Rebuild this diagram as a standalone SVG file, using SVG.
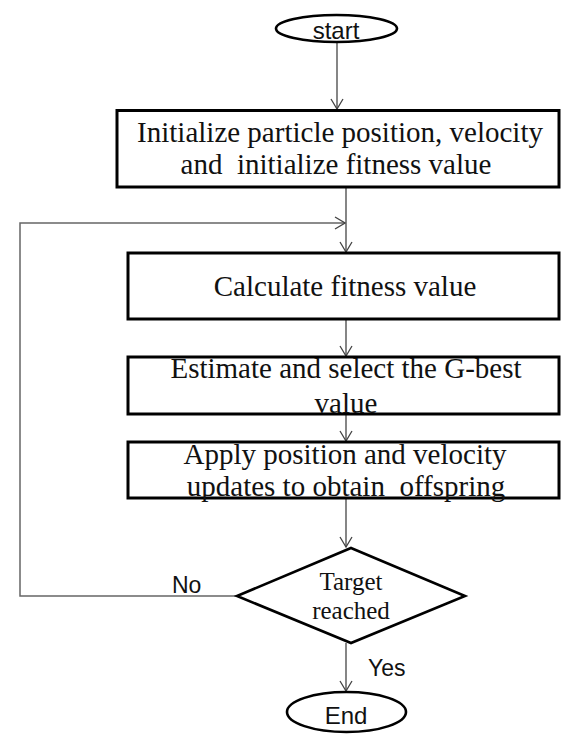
<svg xmlns="http://www.w3.org/2000/svg" width="562" height="734" viewBox="0 0 562 734">
  <style>
    .term { fill: #fff; stroke: #000; stroke-width: 2.6; }
    .box { fill: #fff; stroke: #000; stroke-width: 3; }
    .dec { fill: #fff; stroke: #000; stroke-width: 2.6; stroke-linejoin: miter; }
    .sans { font-family: "Liberation Sans", Arial, sans-serif; fill: #111; }
    .serif { font-family: "Liberation Serif", "Times New Roman", serif; fill: #111; white-space: pre; }
    .flow { fill: none; stroke: #444; stroke-width: 1.3; }
    .loop { fill: none; stroke: #666; stroke-width: 1.5; }
  </style>
  <defs>
    <marker id="arrow" viewBox="-11 -7 12 14" refX="0" refY="0" markerWidth="12" markerHeight="14" markerUnits="userSpaceOnUse" orient="auto">
      <path d="M-10,-6 L0,0 L-10,6" fill="none" stroke="#444" stroke-width="1.3"/>
    </marker>
  </defs>

  <!-- connectors -->
  <g id="connectors">
    <path class="flow" d="M337,42 V109" marker-end="url(#arrow)"/>
    <path class="flow" d="M346,187 V252" marker-end="url(#arrow)"/>
    <path class="loop" d="M237,596 H20 V223 H345" marker-end="url(#arrow)"/>
    <path class="flow" d="M346,319 V356" marker-end="url(#arrow)"/>
    <path class="flow" d="M346,414 V441" marker-end="url(#arrow)"/>
    <path class="flow" d="M346,498 V547" marker-end="url(#arrow)"/>
    <path class="flow" d="M346,643 V691" marker-end="url(#arrow)"/>
  </g>

  <g id="start">
    <ellipse class="term" cx="336.5" cy="28.5" rx="60.5" ry="13.5"/>
    <text class="sans" x="336" y="39" font-size="24" text-anchor="middle">start</text>
  </g>

  <g id="init">
    <rect class="box" x="117" y="110.5" width="442" height="76.5"/>
    <text class="serif" x="340" y="142" font-size="29" text-anchor="middle">Initialize particle position, velocity</text>
    <text class="serif" x="336" y="174" font-size="29" text-anchor="middle">and  initialize fitness value</text>
  </g>

  <g id="fitness">
    <rect class="box" x="128" y="253" width="431" height="66"/>
    <text class="serif" x="345" y="296" font-size="29" text-anchor="middle">Calculate fitness value</text>
  </g>

  <g id="gbest">
    <rect class="box" x="128" y="357" width="431" height="57"/>
    <text class="serif" x="346" y="378" font-size="29" text-anchor="middle">Estimate and select the G-best</text>
    <text class="serif" x="346" y="413" font-size="29" text-anchor="middle">value</text>
  </g>

  <g id="update">
    <rect class="box" x="128" y="442" width="431" height="56"/>
    <text class="serif" x="345" y="464" font-size="29" text-anchor="middle">Apply position and velocity</text>
    <text class="serif" x="346" y="496" font-size="29" text-anchor="middle">updates to obtain  offspring</text>
  </g>

  <g id="target">
    <polygon class="dec" points="351,548 465,596 351,643 237,596"/>
    <text class="serif" x="351" y="590" font-size="25" text-anchor="middle">Target</text>
    <text class="serif" x="351" y="619" font-size="25" text-anchor="middle">reached</text>
  </g>

  <g id="labels">
    <text class="sans" x="172" y="593" font-size="23">No</text>
    <text class="sans" x="368" y="676" font-size="23">Yes</text>
  </g>

  <g id="end">
    <ellipse class="term" cx="346.5" cy="712" rx="59.5" ry="20"/>
    <text class="sans" x="346" y="724" font-size="24" text-anchor="middle">End</text>
  </g>
</svg>
